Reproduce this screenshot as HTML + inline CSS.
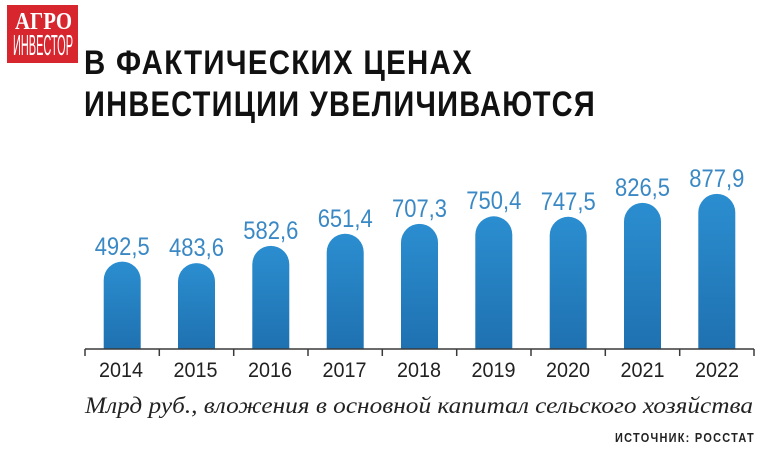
<!DOCTYPE html>
<html>
<head>
<meta charset="utf-8">
<style>
  html, body { margin:0; padding:0; background:#ffffff; }
  svg { display:block; }
</style>
</head>
<body>
<svg width="763" height="449" viewBox="0 0 763 449" xmlns="http://www.w3.org/2000/svg" style="font-family:'Liberation Sans','DejaVu Sans',sans-serif;">
  <defs>
    <linearGradient id="bg" x1="0" y1="0" x2="0" y2="1">
      <stop offset="0" stop-color="#2b8ed0"/>
      <stop offset="1" stop-color="#1f71b0"/>
    </linearGradient>
  </defs>
  <rect x="0" y="0" width="763" height="449" fill="#ffffff"/>

  <!-- Logo -->
  <rect x="7" y="5" width="71" height="58" fill="#d8262f"/>
  <text x="15" y="29" style="font-family:'Liberation Serif',serif;font-weight:bold;font-size:24px;" fill="#ffffff" textLength="57" lengthAdjust="spacingAndGlyphs">АГРО</text>
  <text x="13" y="55" style="font-family:'Liberation Sans',sans-serif;font-size:29px;" fill="#ffffff" textLength="60" lengthAdjust="spacingAndGlyphs">ИНВЕСТОР</text>

  <!-- Title -->
  <text x="84" y="74" style="font-weight:bold;font-size:34px;letter-spacing:1.5px;" fill="#111111" textLength="389" lengthAdjust="spacingAndGlyphs">В ФАКТИЧЕСКИХ ЦЕНАХ</text>
  <text x="84" y="116" style="font-weight:bold;font-size:35px;letter-spacing:1.5px;" fill="#111111" textLength="512" lengthAdjust="spacingAndGlyphs">ИНВЕСТИЦИИ УВЕЛИЧИВАЮТСЯ</text>

  <!-- Bars -->
  <g fill="url(#bg)">
    <path d="M103.7,349 V280.1 A18.5,18.5 0 0 1 140.7,280.1 V349 Z"/>
    <path d="M178.0,349 V281.6 A18.5,18.5 0 0 1 215.0,281.6 V349 Z"/>
    <path d="M252.3,349 V264.3 A18.5,18.5 0 0 1 289.3,264.3 V349 Z"/>
    <path d="M326.7,349 V252.2 A18.5,18.5 0 0 1 363.7,252.2 V349 Z"/>
    <path d="M401.0,349 V242.4 A18.5,18.5 0 0 1 438.0,242.4 V349 Z"/>
    <path d="M475.3,349 V234.8 A18.5,18.5 0 0 1 512.3,234.8 V349 Z"/>
    <path d="M549.7,349 V235.3 A18.5,18.5 0 0 1 586.7,235.3 V349 Z"/>
    <path d="M624.0,349 V221.4 A18.5,18.5 0 0 1 661.0,221.4 V349 Z"/>
    <path d="M698.3,349 V212.4 A18.5,18.5 0 0 1 735.3,212.4 V349 Z"/>
  </g>

  <!-- Value labels -->
  <g style="font-size:25px;" fill="#3a88c4" text-anchor="middle">
    <text x="122.2" y="255" textLength="55" lengthAdjust="spacingAndGlyphs">492,5</text>
    <text x="196.5" y="256" textLength="55" lengthAdjust="spacingAndGlyphs">483,6</text>
    <text x="270.8" y="239" textLength="55" lengthAdjust="spacingAndGlyphs">582,6</text>
    <text x="345.2" y="227" textLength="55" lengthAdjust="spacingAndGlyphs">651,4</text>
    <text x="419.5" y="217" textLength="55" lengthAdjust="spacingAndGlyphs">707,3</text>
    <text x="493.8" y="209" textLength="55" lengthAdjust="spacingAndGlyphs">750,4</text>
    <text x="568.2" y="210" textLength="55" lengthAdjust="spacingAndGlyphs">747,5</text>
    <text x="642.5" y="196" textLength="55" lengthAdjust="spacingAndGlyphs">826,5</text>
    <text x="716.8" y="187" textLength="55" lengthAdjust="spacingAndGlyphs">877,9</text>
  </g>

  <!-- Axis -->
  <g stroke="#3a3a3a" stroke-width="1.5" fill="none">
    <line x1="85" y1="349" x2="754" y2="349"/>
    <line x1="85" y1="349" x2="85" y2="356"/>
    <line x1="159.3" y1="349" x2="159.3" y2="356"/>
    <line x1="233.7" y1="349" x2="233.7" y2="356"/>
    <line x1="308" y1="349" x2="308" y2="356"/>
    <line x1="382.3" y1="349" x2="382.3" y2="356"/>
    <line x1="456.7" y1="349" x2="456.7" y2="356"/>
    <line x1="531" y1="349" x2="531" y2="356"/>
    <line x1="605.3" y1="349" x2="605.3" y2="356"/>
    <line x1="679.7" y1="349" x2="679.7" y2="356"/>
    <line x1="754" y1="349" x2="754" y2="356"/>
  </g>

  <!-- Year labels -->
  <g style="font-size:21px;" fill="#222222" text-anchor="middle">
    <text x="121" y="377" textLength="44" lengthAdjust="spacingAndGlyphs">2014</text>
    <text x="195.5" y="377" textLength="44" lengthAdjust="spacingAndGlyphs">2015</text>
    <text x="270" y="377" textLength="44" lengthAdjust="spacingAndGlyphs">2016</text>
    <text x="344.5" y="377" textLength="44" lengthAdjust="spacingAndGlyphs">2017</text>
    <text x="419" y="377" textLength="44" lengthAdjust="spacingAndGlyphs">2018</text>
    <text x="493.5" y="377" textLength="44" lengthAdjust="spacingAndGlyphs">2019</text>
    <text x="568" y="377" textLength="44" lengthAdjust="spacingAndGlyphs">2020</text>
    <text x="642.5" y="377" textLength="44" lengthAdjust="spacingAndGlyphs">2021</text>
    <text x="717" y="377" textLength="44" lengthAdjust="spacingAndGlyphs">2022</text>
  </g>

  <!-- Caption -->
  <text x="85" y="413" style="font-family:'Liberation Serif','DejaVu Serif',serif;font-style:italic;font-size:23px;" fill="#222222" textLength="668" lengthAdjust="spacingAndGlyphs">Млрд руб., вложения в основной капитал сельского хозяйства</text>

  <!-- Source -->
  <text x="615" y="442" style="font-weight:bold;font-size:13px;letter-spacing:1.5px;" fill="#222222" textLength="140" lengthAdjust="spacingAndGlyphs">ИСТОЧНИК: РОССТАТ</text>
</svg>
</body>
</html>
